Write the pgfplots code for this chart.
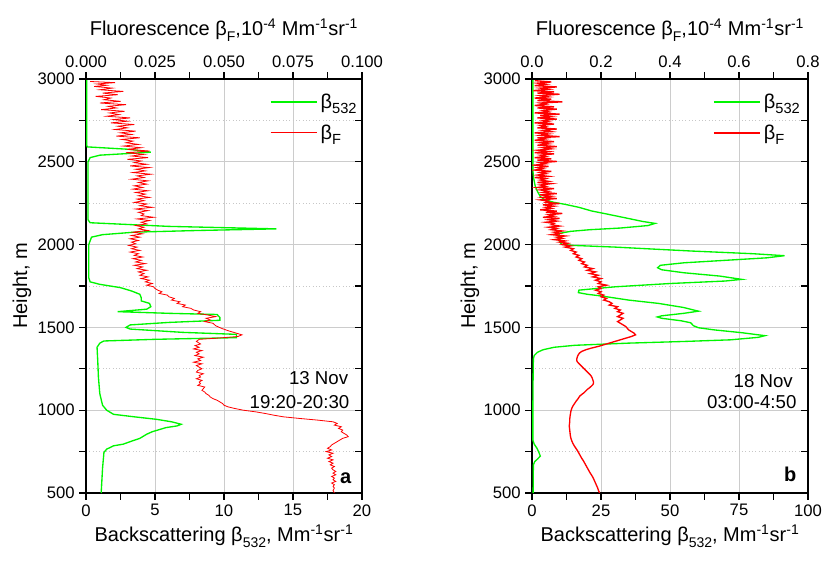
\documentclass[border=0pt]{standalone}
\usepackage{fontspec}
\setmainfont{Liberation Sans}
\usepackage{pgfplots}
\pgfplotsset{compat=1.18}
\definecolor{lgreen}{RGB}{0,245,0}
\definecolor{lred}{RGB}{255,0,0}
\newcommand\lsub[1]{\raisebox{-0.55ex}{\fontsize{11}{12}\selectfont #1}}
\newcommand\asub[1]{\raisebox{-0.5ex}{\fontsize{10.5}{12}\selectfont #1}}
\pgfplotsset{
 base/.style={
  scale only axis, width=207pt, height=310.5pt,
  ymin=500, ymax=3000,
  /pgf/number format/assume math mode=true,
  /pgf/number format/1000 sep={},
  tick label style={font=\fontsize{12.5}{14}\selectfont, black},
  label style={font=\fontsize{15}{18}\selectfont},
  major tick length=5pt, minor tick length=5pt,
  tick style={black, line width=0.8pt},
  axis line style={black, line width=1.1pt, -},
  legend style={draw=none, fill=none, anchor=north west, inner sep=0pt,
    font=\fontsize{15}{18}\selectfont, row sep=7pt},
  legend cell align=left,
 },
 boxax/.style={
  base, xtick pos=bottom, ytick pos=left, tick align=outside,
  ytick={500,1000,1500,2000,2500,3000}, minor y tick num=1, minor x tick num=1,
  xmajorgrids, ymajorgrids, yminorgrids,
  major grid style={color=black!20, line width=0.6pt},
  minor grid style={color=black!22, line width=0.5pt, dotted},
  xlabel={Backscattering β\asub{532}, Mm\textsuperscript{-1}sr\textsuperscript{-1}},
  ylabel={Height, m},
  xlabel style={at={(axis description cs:0.5,-0.118)}, anchor=base},
 },
 topax/.style={
  base, axis x line*=top, hide y axis, tick align=outside, minor x tick num=1,
  scaled x ticks=false,
  xlabel={Fluorescence β\asub{F},10\textsuperscript{-4} Mm\textsuperscript{-1}sr\textsuperscript{-1}},
  xlabel style={at={(axis description cs:0.5,1.104)}, anchor=base},
 },
 rightax/.style={
  base, hide x axis, xmin=0, xmax=1, axis y line*=right, tick align=inside,
  ytick={500,1000,1500,2000,2500,3000}, minor y tick num=1, yticklabels={},
 },
 glegend/.style={legend image code/.code={\draw[draw=lgreen, line width=1.1pt] (0pt,0pt) -- (35pt,0pt);}},
 rlegend/.style={legend image code/.code={\draw[draw=lred, line width=#1] (0pt,0pt) -- (35pt,0pt);}},
}
\begin{document}
\begin{tikzpicture}
\useasboundingbox (0,0) rectangle (620.25pt,422.25pt);
% ================= Panel a =================
\begin{axis}[boxax, at={(64.5pt,52.5pt)}, anchor=south west,
  xmin=0, xmax=20, xtick={0,5,10,15,20},
  ylabel style={at={(axis description cs:-0.232,0.5)}, anchor=center},
  legend style={at={(axis description cs:0.665,0.972)}}]
\addlegendimage{glegend}
\addlegendentry{β\lsub{532}}
\addlegendimage{rlegend=0.8pt}
\addlegendentry{β\lsub{F}}
\addplot[color=lgreen, line width=1pt, forget plot] table[x=v,y=h] {
h v
3000 0.05
2600 0.05
2590 0.1
2575 3.2
2558 4.7
2540 1.0
2525 0.3
2500 0.15
2150 0.15
2132 0.3
2110 6
2095 13.8
2085 8
2075 3.5
2060 1.2
2045 0.4
2000 0.2
1800 0.2
1775 0.3
1760 1.0
1740 2.5
1720 3.3
1700 3.9
1680 4.0
1660 4.0
1645 4.6
1625 4.7
1610 4.4
1595 2.3
1585 6
1578 9.5
1560 9.7
1543 9.7
1530 6
1515 3.2
1500 2.9
1490 3.2
1470 7
1458 10.9
1438 10.9
1428 5
1418 1.3
1405 1.0
1380 0.8
1300 0.85
1200 0.9
1100 1.0
1030 1.2
1000 1.5
975 2.0
960 3.5
945 5.1
930 6.2
915 6.9
905 6.6
895 5.8
870 4.8
855 4.4
830 3.9
810 3.2
795 2.7
785 2.0
765 1.5
745 1.3
650 1.2
500 1.1
};
\node[anchor=base east, font=\fontsize{14}{16}\selectfont] at (rel axis cs:0.967,0.261) {13 Nov};
\node[anchor=base east, font=\fontsize{14}{16}\selectfont] at (rel axis cs:0.971,0.205) {19:20-20:30};
\node[anchor=base east, font=\fontsize{15}{18}\selectfont\bfseries] at (rel axis cs:0.978,0.024) {a};
\end{axis}
\begin{axis}[topax, at={(64.5pt,52.5pt)}, anchor=south west,
  xmin=0, xmax=0.1, xtick={0,0.025,0.05,0.075,0.1},
  xticklabel style={/pgf/number format/.cd, fixed, fixed zerofill, precision=3}]
\addplot[color=lred, line width=0.6pt] table[x=f,y=h] {
h f
2985 0.0015
2978 0.0105
2970 0.0040
2962 0.0075
2955 0.0030
2945 0.0095
2935 0.0050
2925 0.0135
2915 0.0060
2905 0.0115
2895 0.0035
2885 0.0090
2875 0.0065
2865 0.0125
2855 0.0050
2845 0.0145
2835 0.0080
2825 0.0110
2815 0.0055
2805 0.0140
2795 0.0085
2785 0.0120
2775 0.0075
2765 0.0160
2755 0.0100
2745 0.0150
2735 0.0090
2725 0.0175
2715 0.0115
2705 0.0150
2695 0.0105
2685 0.0180
2675 0.0125
2665 0.0165
2655 0.0110
2645 0.0195
2635 0.0130
2625 0.0170
2615 0.0145
2605 0.0190
2595 0.0135
2585 0.0200
2575 0.0150
2565 0.0230
2555 0.0145
2545 0.0210
2535 0.0165
2525 0.0225
2515 0.0150
2505 0.0200
2495 0.0175
2485 0.0220
2475 0.0160
2465 0.0230
2455 0.0180
2445 0.0215
2435 0.0170
2425 0.0235
2415 0.0185
2405 0.0210
2395 0.0165
2385 0.0225
2375 0.0190
2365 0.0220
2355 0.0175
2345 0.0205
2335 0.0170
2325 0.0225
2315 0.0180
2305 0.0215
2295 0.0190
2285 0.0230
2275 0.0185
2265 0.0210
2255 0.0175
2245 0.0220
2235 0.0195
2225 0.0240
2215 0.0180
2205 0.0225
2195 0.0190
2185 0.0210
2175 0.0200
2165 0.0245
2155 0.0185
2145 0.0230
2135 0.0200
2125 0.0220
2115 0.0180
2105 0.0210
2095 0.0190
2085 0.0225
2075 0.0170
2065 0.0205
2055 0.0165
2045 0.0195
2035 0.0160
2025 0.0190
2015 0.0165
2005 0.0180
1995 0.0155
1985 0.0185
1975 0.0165
1965 0.0195
1955 0.0160
1945 0.0190
1935 0.0175
1925 0.0205
1915 0.0170
1905 0.0200
1895 0.0180
1885 0.0215
1875 0.0175
1865 0.0205
1855 0.0185
1845 0.0220
1835 0.0190
1825 0.0210
1815 0.0195
1805 0.0225
1795 0.0200
1785 0.0230
1775 0.0215
1765 0.0240
1755 0.0220
1745 0.0245
1735 0.0250
1725 0.0260
1715 0.0275
1705 0.0265
1695 0.0295
1685 0.0300
1675 0.0320
1665 0.0310
1655 0.0340
1645 0.0330
1635 0.0360
1625 0.0350
1615 0.0380
1605 0.0390
1595 0.0415
1585 0.0405
1575 0.0440
1565 0.0470
1555 0.0435
1545 0.0450
1535 0.0430
1525 0.0460
1510 0.0470
1495 0.0490
1480 0.0515
1465 0.0545
1455 0.0565
1445 0.0550
1435 0.0475
1428 0.0410
1415 0.0400
1400 0.0415
1390 0.0395
1380 0.0410
1370 0.0390
1360 0.0420
1350 0.0400
1340 0.0410
1330 0.0395
1320 0.0425
1310 0.0405
1300 0.0415
1290 0.0390
1280 0.0420
1270 0.0400
1260 0.0410
1250 0.0420
1240 0.0405
1230 0.0400
1220 0.0425
1210 0.0410
1200 0.0415
1190 0.0400
1180 0.0420
1170 0.0410
1160 0.0415
1150 0.0405
1140 0.0430
1130 0.0425
1120 0.0420
1110 0.0430
1100 0.0435
1090 0.0445
1080 0.0450
1070 0.0460
1060 0.0475
1050 0.0485
1040 0.0495
1030 0.0500
1020 0.0515
1010 0.0540
1000 0.0570
990 0.0615
980 0.0650
970 0.0680
960 0.0715
950 0.0775
940 0.0840
930 0.0895
920 0.0910
910 0.0900
900 0.0925
890 0.0915
880 0.0930
870 0.0925
860 0.0935
850 0.0945
840 0.0950
830 0.0930
820 0.0920
810 0.0910
800 0.0900
790 0.0890
780 0.0885
770 0.0875
760 0.0890
750 0.0870
740 0.0895
730 0.0880
720 0.0890
710 0.0875
700 0.0895
690 0.0880
680 0.0895
670 0.0885
660 0.0900
650 0.0890
640 0.0895
630 0.0905
620 0.0895
610 0.0905
600 0.0890
590 0.0900
580 0.0895
570 0.0905
560 0.0890
550 0.0900
540 0.0895
530 0.0900
515 0.0895
500 0.0900
};
\end{axis}
\begin{axis}[rightax, at={(64.5pt,52.5pt)}, anchor=south west]
\end{axis}
% ================= Panel b =================
\begin{axis}[boxax, at={(399pt,52.5pt)}, anchor=south west,
  xmin=0, xmax=100, xtick={0,25,50,75,100},
  ylabel style={at={(axis description cs:-0.225,0.5)}, anchor=center},
  legend style={at={(axis description cs:0.655,0.972)}}]
\addlegendimage{glegend}
\addlegendentry{β\lsub{532}}
\addlegendimage{rlegend=1pt}
\addlegendentry{β\lsub{F}}
\addplot[color=lgreen, line width=1pt, forget plot] table[x=v,y=h] {
h v
3000 0.3
2450 0.3
2400 0.6
2350 1.2
2320 2.0
2290 3.0
2270 4.7
2255 8
2243 12
2225 17
2203 21.6
2185 27
2162 33.7
2140 40
2128 44.6
2115 42
2100 32
2090 21
2080 14
2068 10
2050 9.5
2020 10.0
2002 10.7
1995 15
1985 30
1972 45
1961 58
1945 80
1933 91.5
1920 85
1905 70
1890 55
1875 46.5
1860 45.5
1848 47
1830 55
1810 68
1790 76
1780 70
1765 50
1745 30
1725 17
1710 16.8
1700 20
1690 25
1665 35
1645 45.8
1620 55
1598 60.3
1585 55
1570 47
1563 45.4
1555 47
1540 54
1528 57.5
1510 58.5
1498 60.3
1485 66
1468 76
1450 84.4
1440 82
1425 72
1415 55
1405 35
1392 15.6
1380 8
1365 4
1350 2
1330 0.8
1310 0.5
1200 0.4
1000 0.3
820 0.3
795 0.8
770 1.8
745 2.5
723 3.0
705 2.0
690 1.0
670 0.5
500 0.4
};
\node[anchor=base east, font=\fontsize{14}{16}\selectfont] at (rel axis cs:0.962,0.256) {18 Nov};
\node[anchor=base east, font=\fontsize{14}{16}\selectfont] at (rel axis cs:0.975,0.205) {03:00-4:50};
\node[anchor=base east, font=\fontsize{15}{18}\selectfont\bfseries] at (rel axis cs:0.975,0.027) {b};
\end{axis}
\begin{axis}[topax, at={(399pt,52.5pt)}, anchor=south west,
  xmin=0, xmax=0.8, xtick={0,0.2,0.4,0.6,0.8},
  xticklabel style={/pgf/number format/.cd, fixed, fixed zerofill, precision=1}]
\addplot[color=lred, line width=1pt] table[x=f,y=h] {
h f
2990 0.008
2982 0.056
2975 0.016
2968 0.040
2960 0.008
2952 0.072
2945 0.024
2938 0.048
2930 0.004
2922 0.064
2915 0.016
2908 0.080
2900 0.024
2892 0.048
2885 0.008
2878 0.056
2870 0.016
2862 0.088
2855 0.024
2848 0.040
2840 0.008
2832 0.064
2825 0.016
2818 0.072
2810 0.032
2802 0.048
2795 0.008
2788 0.080
2780 0.024
2772 0.056
2765 0.016
2758 0.072
2750 0.032
2742 0.048
2735 0.008
2728 0.064
2720 0.024
2712 0.040
2705 0.016
2698 0.072
2690 0.032
2682 0.056
2675 0.008
2668 0.048
2660 0.024
2652 0.080
2645 0.016
2638 0.040
2630 0.008
2622 0.064
2615 0.024
2608 0.048
2600 0.016
2592 0.072
2585 0.032
2578 0.056
2570 0.016
2562 0.048
2555 0.008
2548 0.064
2540 0.024
2532 0.040
2525 0.008
2518 0.056
2510 0.016
2502 0.072
2495 0.024
2488 0.040
2480 0.008
2472 0.048
2465 0.016
2458 0.032
2450 0.008
2442 0.056
2435 0.024
2428 0.040
2420 0.016
2412 0.048
2405 0.008
2398 0.040
2390 0.024
2382 0.048
2375 0.016
2368 0.056
2360 0.024
2352 0.040
2345 0.016
2338 0.064
2330 0.024
2322 0.048
2315 0.032
2308 0.072
2300 0.024
2292 0.056
2285 0.032
2278 0.072
2270 0.024
2262 0.048
2255 0.040
2248 0.080
2240 0.032
2232 0.064
2225 0.040
2218 0.056
2210 0.024
2202 0.072
2195 0.040
2188 0.088
2180 0.048
2172 0.064
2165 0.032
2158 0.080
2150 0.048
2142 0.072
2135 0.040
2128 0.064
2120 0.056
2112 0.080
2105 0.048
2098 0.072
2090 0.056
2082 0.088
2075 0.064
2068 0.080
2060 0.056
2052 0.096
2045 0.072
2038 0.088
2030 0.064
2022 0.096
2015 0.080
2008 0.104
2000 0.088
1992 0.112
1985 0.096
1975 0.120
1965 0.112
1955 0.128
1945 0.120
1935 0.136
1925 0.128
1915 0.144
1905 0.136
1895 0.152
1885 0.144
1875 0.160
1865 0.152
1855 0.176
1845 0.160
1835 0.184
1825 0.168
1815 0.192
1805 0.176
1795 0.200
1785 0.184
1775 0.200
1765 0.192
1755 0.216
1745 0.192
1735 0.200
1725 0.184
1715 0.200
1705 0.192
1695 0.208
1685 0.200
1675 0.216
1665 0.208
1655 0.224
1645 0.232
1635 0.224
1625 0.248
1615 0.240
1605 0.256
1595 0.248
1585 0.264
1575 0.256
1565 0.248
1555 0.264
1545 0.256
1535 0.248
1525 0.256
1515 0.264
1505 0.272
1495 0.276
1485 0.280
1475 0.288
1465 0.296
1455 0.300
1445 0.288
1435 0.272
1425 0.256
1415 0.240
1405 0.224
1395 0.208
1385 0.192
1375 0.172
1365 0.156
1355 0.144
1345 0.1376
1335 0.1344
1325 0.1320
1315 0.1304
1305 0.1296
1295 0.1304
1285 0.1344
1275 0.1392
1265 0.1440
1255 0.1488
1245 0.1536
1235 0.1584
1225 0.1632
1215 0.1680
1205 0.1720
1195 0.1744
1185 0.1760
1175 0.1776
1165 0.1784
1155 0.1768
1145 0.1720
1135 0.1664
1125 0.1600
1115 0.1552
1105 0.1504
1095 0.1440
1085 0.1384
1075 0.1352
1065 0.1320
1055 0.1280
1045 0.1248
1035 0.1216
1025 0.1184
1015 0.1160
1005 0.1144
995 0.1128
985 0.1120
975 0.1112
965 0.1104
950 0.1096
935 0.1096
920 0.1088
905 0.1080
890 0.1088
875 0.1096
860 0.1104
845 0.1112
830 0.1128
815 0.1152
800 0.1184
785 0.1224
770 0.1272
755 0.1320
740 0.1360
725 0.1400
710 0.1440
695 0.1488
680 0.1528
665 0.1568
650 0.1608
635 0.1648
620 0.1688
605 0.1736
590 0.1776
575 0.1808
560 0.1840
545 0.1872
530 0.1904
515 0.1928
500 0.1960
};
\end{axis}
\begin{axis}[rightax, at={(399pt,52.5pt)}, anchor=south west]
\end{axis}
\end{tikzpicture}
\end{document}
